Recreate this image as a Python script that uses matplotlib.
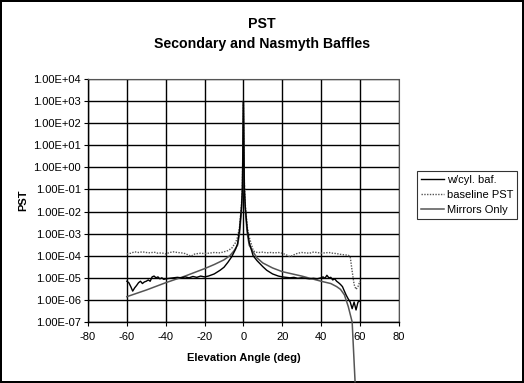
import matplotlib.pyplot as plt
from matplotlib.ticker import FixedLocator, FuncFormatter

plt.rcParams['font.family'] = ['Liberation Sans', 'DejaVu Sans']
plt.rcParams['axes.unicode_minus'] = False

# w/cyl. baf. (noisy solid black)
cyl_x = [-60, -59, -58, -57, -56, -55, -54, -53, -52, -51, -50, -49, -48, -47, -46, -45,
         -44, -43, -42, -41, -40, -38, -36, -34, -32, -30, -28, -26, -24, -22, -20, -18,
         -15, -12, -10, -8, -6, -4, -3, -2, -1, -0.5, 0,
         0.5, 1, 2, 3, 4, 5, 7, 10, 12, 15, 18, 20, 22, 24, 26, 28, 30, 32, 34, 36, 38,
         40, 41, 42, 43, 44, 45, 46, 47, 48, 49, 50, 51, 52, 53, 54, 55, 56, 57, 58, 59, 60]
cyl_y = [7e-6, 6e-6, 4e-6, 2.5e-6, 3.5e-6, 4.5e-6, 6e-6, 7e-6, 5.5e-6, 6.5e-6, 7e-6, 8e-6,
         7e-6, 1.1e-5, 1.2e-5, 1e-5, 1.1e-5, 9e-6, 1e-5, 8.5e-6, 9e-6, 9.5e-6, 1e-5, 1.05e-5,
         1e-5, 1.1e-5, 1e-5, 1.15e-5, 1.05e-5, 1.2e-5, 1.1e-5, 1.2e-5,
         1.5e-5, 2.2e-5, 3e-5, 5e-5, 9e-5, 2e-4, 3.5e-4, 1.5e-3, 1.5e-2, 1e-1, 1e3,
         1e-1, 1.5e-2, 1.5e-3, 4e-4, 2e-4, 1e-4, 6e-5, 3.2e-5, 2.2e-5, 1.5e-5, 1.2e-5, 1.1e-5,
         1.05e-5, 1e-5, 1.05e-5, 9.5e-6, 1e-5, 9.5e-6, 9e-6, 9.5e-6, 9e-6,
         1e-5, 1.1e-5, 9.5e-6, 1.3e-5, 1e-5, 1.05e-5, 8e-6, 9e-6, 7e-6, 6e-6, 5e-6, 4e-6,
         2.5e-6, 1.6e-6, 1.1e-6, 8e-7, 4e-7, 8e-7, 3.5e-7, 8e-7, 9e-7]

# baseline PST (dotted)
base_x = [-60, -58, -56, -54, -52, -50, -48, -46, -44, -42, -40, -38, -36, -34, -32, -30,
          -28, -27, -25, -22, -20, -18, -15, -12, -10, -8, -6, -4, -3, -2, -1, -0.5, 0,
          0.5, 1, 2, 3, 4, 5, 6, 8, 10, 12, 14, 16, 18, 20, 22, 24, 26, 28, 30, 32, 34, 36,
          38, 40, 42, 44, 46, 48, 50, 52, 54, 55, 56, 57, 58, 59, 60]
base_y = [1.2e-4, 1.3e-4, 1.5e-4, 1.4e-4, 1.5e-4, 1.4e-4, 1.35e-4, 1.45e-4, 1.3e-4, 1.35e-4,
          1.2e-4, 1.4e-4, 1.5e-4, 1.4e-4, 1.35e-4, 1.25e-4, 1.05e-4, 9.5e-5, 1.2e-4, 1.3e-4,
          1.25e-4, 1.3e-4, 1.4e-4, 1.35e-4, 1.5e-4, 1.7e-4, 2.2e-4, 4e-4, 7e-4, 2e-3, 2e-2,
          2e-1, 1e3,
          2e-1, 2e-2, 2e-3, 7e-4, 3.5e-4, 1.8e-4, 1.45e-4, 1.4e-4, 1.45e-4, 1.35e-4, 1.4e-4,
          1.35e-4, 1.4e-4, 1.3e-4, 1.1e-4, 9e-5, 1.1e-4, 1.3e-4, 1.4e-4, 1.35e-4, 1.3e-4,
          1.45e-4, 1.4e-4, 1.3e-4, 1.35e-4, 1.4e-4, 1.3e-4, 1.25e-4, 1.15e-4, 1.1e-4, 1.05e-4,
          9e-5, 2e-5, 5e-6, 3e-6, 4e-6, 7e-6]

# Mirrors Only (smooth)
mir_x = [-60, -50, -40, -30, -20, -15, -10, -7, -5, -3, -2, -1, -0.5, 0,
         0.5, 1, 2, 3, 5, 7, 10, 15, 20, 30, 40, 45, 48, 50, 52, 54, 56, 57.5]
mir_y = [1.4e-6, 2.8e-6, 6e-6, 1.2e-5, 2.6e-5, 4e-5, 6.5e-5, 1e-4, 1.6e-4, 3e-4, 1e-3,
         1e-2, 1e-1, 1e3,
         1e-1, 1e-2, 1e-3, 3e-4, 1.5e-4, 8e-5, 4.7e-5, 2.8e-5, 1.9e-5, 1.2e-5, 7e-6, 5.5e-6,
         4e-6, 3e-6, 1.7e-6, 5e-7, 1e-7, 2e-10]

x_ticks = [-80, -60, -40, -20, 0, 20, 40, 60, 80]
y_ticks = [1e-7, 1e-6, 1e-5, 1e-4, 1e-3, 1e-2, 1e-1, 1e0, 1e1, 1e2, 1e3, 1e4]


def sci_label(v, pos):
    s = "%.2E" % v
    mant, exp = s.split("E")
    return "%sE%s%02d" % (mant, exp[0], abs(int(exp)))


fig = plt.figure(figsize=(5.24, 3.83), dpi=100)
fig.patch.set_edgecolor('black')
fig.patch.set_linewidth(1.5)
ax = fig.add_axes([0.168, 0.1593, 0.593, 0.6344])

ax.plot(cyl_x, cyl_y, color='black', lw=1.0, label='w/cyl. baf.', zorder=4)
ax.plot(base_x, base_y, color='#555555', lw=1.0, ls=(0, (1, 1)), label='baseline PST', zorder=3)
ax.plot(mir_x, mir_y, color='#555555', lw=1.1, label='Mirrors Only', zorder=3, clip_on=False)

ax.set_yscale('log')
ax.set_xlim(-80, 80)
ax.set_ylim(1e-7, 1e4)
ax.xaxis.set_major_locator(FixedLocator(x_ticks))
ax.yaxis.set_major_locator(FixedLocator(y_ticks))
ax.yaxis.set_minor_locator(FixedLocator([]))
ax.yaxis.set_major_formatter(FuncFormatter(sci_label))
ax.tick_params(labelsize=8, direction='out', length=3, width=0.8, pad=2)
ax.tick_params(axis='x', pad=4)
ax.grid(True, color='black', lw=1.0)

for side in ['top', 'right']:
    ax.spines[side].set_linestyle((0, (1, 1)))
    ax.spines[side].set_color('#555555')
for side in ['left', 'bottom']:
    ax.spines[side].set_linewidth(1.0)

ax.set_xlabel('Elevation Angle (deg)', fontsize=8, fontweight='bold', labelpad=8)
ax.set_ylabel('PST', fontsize=8, fontweight='bold', labelpad=4)
fig.suptitle('PST\nSecondary and Nasmyth Baffles', fontsize=10.2, fontweight='bold',
             y=0.955, linespacing=1.5)

leg = ax.legend(loc='upper left', bbox_to_anchor=(1.06, 0.62), fontsize=8,
                frameon=True, fancybox=False, edgecolor='black', handlelength=2.0,
                handletextpad=0.3, borderpad=0.35, labelspacing=0.45, borderaxespad=0)
leg.get_frame().set_linewidth(0.8)

fig.savefig('out.png', dpi=100)
